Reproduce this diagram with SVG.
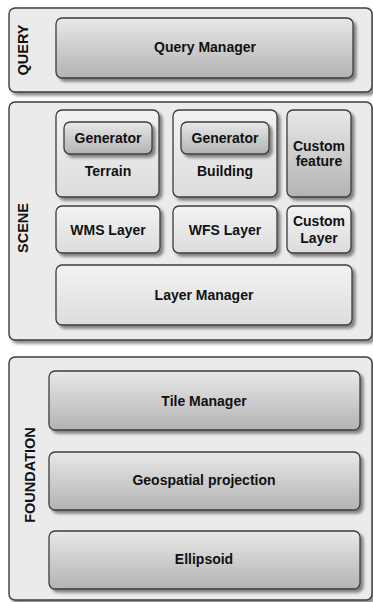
<svg xmlns="http://www.w3.org/2000/svg" width="373" height="602" viewBox="0 0 373 602">
<defs>
<linearGradient id="gDark" x1="0" y1="0" x2="0" y2="1">
<stop offset="0" stop-color="#e8e8e8"/>
<stop offset="1" stop-color="#b3b3b3"/>
</linearGradient>
<linearGradient id="gLight" x1="0" y1="0" x2="0" y2="1">
<stop offset="0" stop-color="#f3f3f3"/>
<stop offset="1" stop-color="#dcdcdc"/>
</linearGradient>
<filter id="sh" x="-10%" y="-10%" width="130%" height="140%">
<feGaussianBlur in="SourceAlpha" stdDeviation="1.5"/>
<feOffset dx="2.5" dy="2.5" result="b"/>
<feComponentTransfer><feFuncA type="linear" slope="0.45"/></feComponentTransfer>
<feMerge><feMergeNode/><feMergeNode in="SourceGraphic"/></feMerge>
</filter>
</defs>
<style>
.panel{fill:#ebebeb;stroke:#3c3c3c;stroke-width:1.4;filter:url(#sh)}
.dark{fill:url(#gDark);stroke:#3c3c3c;stroke-width:1.3;filter:url(#sh)}
.light{fill:url(#gLight);stroke:#3c3c3c;stroke-width:1.3;filter:url(#sh)}
text{font-family:"Liberation Sans",Arial,sans-serif;font-weight:bold;font-size:14px;fill:#111;text-anchor:middle;dominant-baseline:central}
.lbl{font-size:14.5px}
</style>
<g id="query">
<rect class="panel" x="9" y="8" width="363" height="84" rx="6"/>
<text class="lbl" transform="translate(23,50) rotate(-90)">QUERY</text>
</g>
<g id="query-manager">
<rect class="dark" x="56" y="18" width="297" height="60" rx="6"/>
<text x="205" y="47">Query Manager</text>
</g>
<g id="scene">
<rect class="panel" x="9" y="102" width="363" height="238" rx="6"/>
<text class="lbl" transform="translate(23,228) rotate(-90)">SCENE</text>
</g>
<g id="terrain">
<rect class="light" x="56" y="110" width="103" height="87" rx="6"/>
<text x="108" y="171">Terrain</text>
</g>
<g id="terrain-generator">
<rect class="dark" x="64" y="122" width="88" height="32" rx="6"/>
<text x="108" y="138">Generator</text>
</g>
<g id="building">
<rect class="light" x="173" y="110" width="104" height="87" rx="6"/>
<text x="225" y="171">Building</text>
</g>
<g id="building-generator">
<rect class="dark" x="181" y="122" width="88" height="32" rx="6"/>
<text x="225" y="138">Generator</text>
</g>
<g id="custom-feature">
<rect class="dark" x="287" y="110" width="64" height="87" rx="6"/>
<text x="319" y="146">Custom</text>
<text x="319" y="161">feature</text>
</g>
<g id="wms-layer">
<rect class="light" x="56" y="206" width="104" height="47" rx="6"/>
<text x="108" y="230">WMS Layer</text>
</g>
<g id="wfs-layer">
<rect class="light" x="173" y="206" width="104" height="47" rx="6"/>
<text x="225" y="230">WFS Layer</text>
</g>
<g id="custom-layer">
<rect class="light" x="287" y="206" width="64" height="47" rx="6"/>
<text x="319" y="221">Custom</text>
<text x="319" y="238">Layer</text>
</g>
<g id="layer-manager">
<rect class="light" x="56" y="265" width="296" height="60" rx="6"/>
<text x="204" y="295">Layer Manager</text>
</g>
<g id="foundation">
<rect class="panel" x="9" y="357" width="363" height="243" rx="6"/>
<text class="lbl" transform="translate(30,475) rotate(-90)">FOUNDATION</text>
</g>
<g id="tile-manager">
<rect class="dark" x="49" y="371" width="311" height="59" rx="6"/>
<text x="204" y="401">Tile Manager</text>
</g>
<g id="geospatial-projection">
<rect class="dark" x="49" y="452" width="311" height="58" rx="6"/>
<text x="204" y="480">Geospatial projection</text>
</g>
<g id="ellipsoid">
<rect class="dark" x="49" y="531" width="311" height="58" rx="6"/>
<text x="204" y="559">Ellipsoid</text>
</g>
<g id="connectors"/>
</svg>
